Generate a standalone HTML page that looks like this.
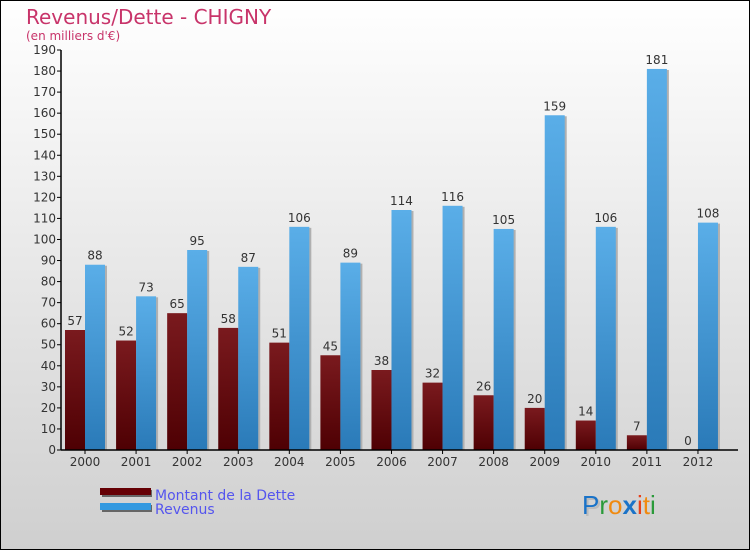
<!DOCTYPE html>
<html><head><meta charset="utf-8"><style>
body{margin:0}
svg{display:block;font-family:"DejaVu Sans","Liberation Sans",sans-serif}
</style></head><body>
<svg width="750" height="550" viewBox="0 0 750 550">
<defs>
<linearGradient id="bg" x1="0" y1="0" x2="0" y2="1"><stop offset="0" stop-color="#ffffff"/><stop offset="1" stop-color="#cfcfcf"/></linearGradient>
<linearGradient id="gd" x1="0" y1="0" x2="0" y2="1"><stop offset="0" stop-color="#7a1a1e"/><stop offset="1" stop-color="#4e0003"/></linearGradient>
<linearGradient id="gr" x1="0" y1="0" x2="0" y2="1"><stop offset="0" stop-color="#5aaee8"/><stop offset="1" stop-color="#2a7ab8"/></linearGradient>
</defs>
<rect x="0.5" y="0.5" width="749" height="549" fill="url(#bg)" stroke="#000"/>
<text x="26" y="24" font-size="20" fill="#c8346a">Revenus/Dette - CHIGNY</text>
<text x="26" y="40" font-size="12" fill="#c8346a">(en milliers d'€)</text>
<g id="plot"></g>
<g>
<rect x="102" y="490" width="50" height="7" fill="#666"/><rect x="100" y="488" width="51" height="7" fill="#650005"/>
<text x="155" y="500" font-size="14" fill="#5555ee">Montant de la Dette</text>
<rect x="102" y="505" width="50" height="7" fill="#666"/><rect x="100" y="503" width="51" height="7" fill="#3399e0"/>
<text x="155" y="514" font-size="14" fill="#5555ee">Revenus</text>
</g>
<g font-size="26" font-family="'Liberation Sans',sans-serif">
<text x="584" y="516" fill="#bbb">P</text>
<text x="582" y="514"><tspan fill="#1a73c8">P</tspan><tspan fill="#2a9a3a">r</tspan><tspan fill="#f08a10">o</tspan><tspan fill="#1a73c8" font-weight="bold">x</tspan><tspan fill="#e8401a">i</tspan><tspan fill="#f08a10">t</tspan><tspan fill="#2a9a3a">i</tspan></text>
</g>
</svg>
<script>
const years=["2000","2001","2002","2003","2004","2005","2006","2007","2008","2009","2010","2011","2012"];
const dette=[57,52,65,58,51,45,38,32,26,20,14,7,0];
const revenus=[88,73,95,87,106,89,114,116,105,159,106,181,108];
const yTicks=[0,10,20,30,40,50,60,70,80,90,100,110,120,130,140,150,160,170,180,190];
const NS="http://www.w3.org/2000/svg";
const g=document.getElementById('plot');
const y0=450,yTop=50,yMax=190,axX=61;
const y=v=>y0-(v/yMax)*(y0-yTop);
const cx=i=>85+i*51.08;
function el(t,a,p){const e=document.createElementNS(NS,t);for(const k in a)e.setAttribute(k,a[k]);(p||g).appendChild(e);return e;}
yTicks.forEach(t=>{
 const l=el('line',{x1:axX-4,x2:axX,y1:y(t),y2:y(t),stroke:'#000'});
 
 
 const tx=el('text',{x:axX-5,y:y(t)+4,'font-size':12,fill:'#333','text-anchor':'end'});
 tx.textContent=t;
 
 
});
years.forEach((yr,i)=>{
 const c=cx(i);
 [[dette[i],c-20,'url(#gd)','bar-dette'],[revenus[i],c,'url(#gr)','bar-revenus']].forEach(([v,x,f,n])=>{
  const sh=el('rect',{x:x+2,y:y(v)+1,width:20,height:y0-y(v)-1,fill:'#b0b0b0'});
  
  
  const r=el('rect',{x:x,y:y(v),width:20,height:y0-y(v),fill:f});
  
  
  const t=el('text',{x:x+10,y:y(v)-5,'font-size':12,fill:'#333','text-anchor':'middle'});
  t.textContent=v;
  
  
 });
 const tk=el('line',{x1:c,x2:c,y1:y0,y2:y0+4,stroke:'#000'});
 
 
 const xl=el('text',{x:c,y:y0+16,'font-size':12,fill:'#333','text-anchor':'middle'});
 xl.textContent=yr;
 
 
});
const ya=el('line',{x1:axX,x2:axX,y1:yTop,y2:y0,stroke:'#000','stroke-width':1.5});


const xa=el('line',{x1:axX,x2:738,y1:y0,y2:y0,stroke:'#000','stroke-width':1.5});


</script>
</body></html>
